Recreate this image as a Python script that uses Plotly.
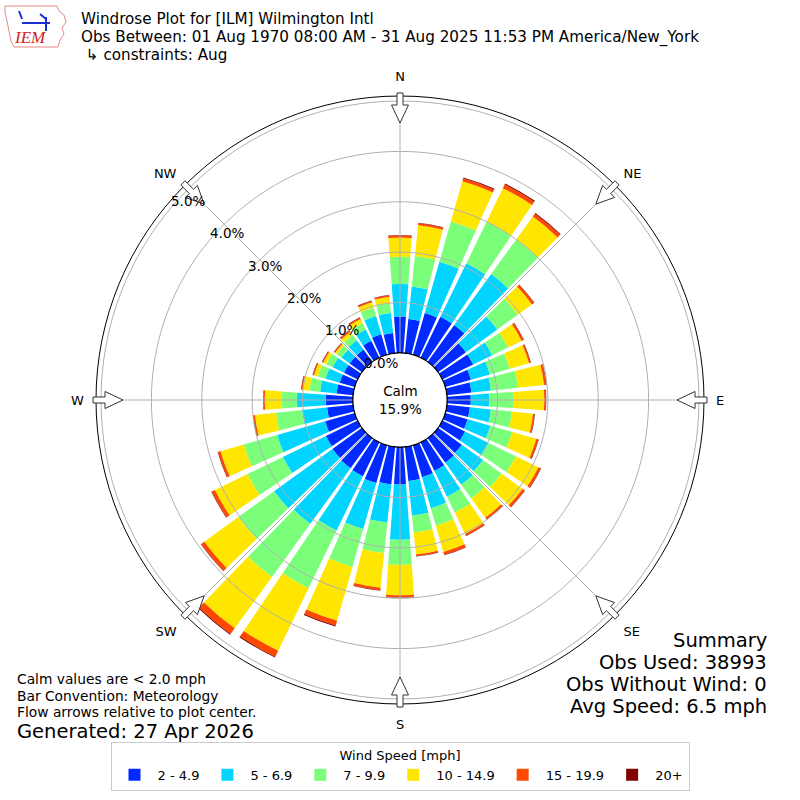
import math
import plotly.graph_objects as go

# Wind direction bins (degrees, meteorological, 10 deg bins)
directions = list(range(0, 360, 10))

speed_labels = ["2 - 4.9", "5 - 6.9", "7 - 9.9", "10 - 14.9", "15 - 19.9", "20+"]
speed_colors = ["#002aff", "#00d4ff", "#7bff7b", "#ffe600", "#ff4800", "#800000"]

# Frequency [%] per direction for each speed bin
freq_2_5 = [0.72, 0.68, 0.86, 0.90, 0.90, 0.68, 0.68, 0.53, 0.49, 0.47,
            0.46, 0.46, 0.50, 0.58, 0.60, 0.63, 0.66, 0.68, 0.74,
            0.75, 0.78, 0.75, 0.74, 0.72, 0.70, 0.61, 0.52, 0.54,
            0.33, 0.31, 0.30, 0.30, 0.30, 0.37, 0.42, 0.40]
freq_5_7 = [0.65, 0.65, 1.06, 1.18, 1.25, 0.77, 0.42, 0.39, 0.39, 0.37,
            0.42, 0.47, 0.52, 0.52, 0.54, 0.57, 0.64, 0.69, 1.10,
            0.76, 0.95, 1.20, 1.36, 1.43, 0.95, 0.99, 0.50, 0.57,
            0.33, 0.29, 0.25, 0.20, 0.23, 0.25, 0.38, 0.40]
freq_7_10 = [0.54, 0.61, 0.83, 0.92, 0.85, 0.50, 0.35, 0.41, 0.54, 0.47,
             0.42, 0.45, 0.60, 0.45, 0.34, 0.35, 0.36, 0.34, 0.50,
             0.61, 0.78, 1.27, 1.30, 0.88, 0.78, 0.69, 0.52, 0.30,
             0.21, 0.16, 0.14, 0.11, 0.13, 0.14, 0.17, 0.20]
freq_10_15 = [0.38, 0.61, 0.83, 0.74, 0.56, 0.35, 0.30, 0.40, 0.52, 0.62,
              0.42, 0.50, 0.50, 0.52, 0.47, 0.47, 0.54, 0.44, 0.60,
              0.69, 1.11, 1.38, 1.26, 0.83, 0.72, 0.48, 0.42, 0.34,
              0.14, 0.08, 0.07, 0.05, 0.08, 0.09, 0.11, 0.12]
freq_15_20 = [0.04, 0.04, 0.06, 0.08, 0.07, 0.05, 0.04, 0.03, 0.04, 0.03,
              0.03, 0.04, 0.05, 0.05, 0.04, 0.04, 0.06, 0.03, 0.04,
              0.05, 0.10, 0.13, 0.14, 0.08, 0.07, 0.05, 0.03, 0.02,
              0.02, 0.02, 0.02, 0.02, 0.03, 0.03, 0.03, 0.03]
freq_20_up = [0.01, 0.01, 0.02, 0.02, 0.02, 0.01, 0.01, 0.01, 0.01, 0.01,
              0.01, 0.01, 0.01, 0.01, 0.01, 0.01, 0.01, 0.01, 0.01,
              0.01, 0.02, 0.02, 0.02, 0.01, 0.01, 0.01, 0.01, 0.01,
              0.01, 0.01, 0.01, 0.01, 0.01, 0.01, 0.01, 0.01]

speed_series = [freq_2_5, freq_5_7, freq_7_10, freq_10_15, freq_15_20, freq_20_up]

radial_ticks = [0, 1, 2, 3, 4, 5]
radial_ticktext = ["0.0%", "1.0%", "2.0%", "3.0%", "4.0%", "5.0%"]
compass_angles = [0, 45, 90, 135, 180, 225, 270, 315]
compass_labels = ["N", "NE", "E", "SE", "S", "SW", "W", "NW"]

calm_pct = 15.9
title_lines = [
    "Windrose Plot for [ILM] Wilmington Intl",
    "Obs Between: 01 Aug 1970 08:00 AM - 31 Aug 2025 11:53 PM America/New_York",
    " ↳ constraints: Aug",
]
summary_lines = ["Summary", "Obs Used: 38993", "Obs Without Wind: 0", "Avg Speed: 6.5 mph"]
note_lines = ["Calm values are < 2.0 mph", "Bar Convention: Meteorology",
              "Flow arrows relative to plot center."]
generated = "Generated: 27 Apr 2026"

FONT = "DejaVu Sans"
W = H = 800
RMAX = 5.1
HOLE = 0.155
OUTER_PX = 304          # radius of the polar frame in pixels
CX, CY = 400, 400       # polar centre in pixels

fig = go.Figure()

for label, color, vals in zip(speed_labels, speed_colors, speed_series):
    fig.add_trace(go.Barpolar(
        r=vals, theta=directions, width=8.2, name=label,
        marker=dict(color=color, line=dict(width=0)),
    ))

# grid drawn over the bars, like matplotlib does
ring_theta = list(range(0, 361, 2))
for k in radial_ticks[1:]:
    fig.add_trace(go.Scatterpolar(
        r=[k] * len(ring_theta), theta=ring_theta, mode="lines",
        line=dict(color="#b0b0b0", width=1), showlegend=False, hoverinfo="skip"))
for a in compass_angles:
    fig.add_trace(go.Scatterpolar(
        r=[0, RMAX], theta=[a, a], mode="lines",
        line=dict(color="#b0b0b0", width=1), showlegend=False, hoverinfo="skip"))
# calm circle edge
fig.add_trace(go.Scatterpolar(
    r=[0] * len(ring_theta), theta=ring_theta, mode="lines",
    line=dict(color="black", width=1.2), showlegend=False, hoverinfo="skip"))

fig.update_layout(
    width=W, height=H,
    margin=dict(l=0, r=0, t=0, b=0),
    paper_bgcolor="white",
    font=dict(family=FONT, size=13, color="black"),
    polar=dict(
        domain=dict(x=[0.12, 0.88], y=[0.12, 0.88]),
        hole=HOLE,
        bgcolor="white",
        barmode="stack",
        angularaxis=dict(
            rotation=90, direction="clockwise",
            tickmode="array", tickvals=compass_angles, ticktext=compass_labels,
            ticks="outside", ticklen=9, tickcolor="rgba(0,0,0,0)",
            showgrid=False, showline=True, linecolor="black", linewidth=1,
            tickfont=dict(size=13),
        ),
        radialaxis=dict(
            range=[0, RMAX], tickmode="array", tickvals=radial_ticks,
            showticklabels=False, showgrid=False, showline=False, ticks="",
        ),
    ),
    legend=dict(
        orientation="h", x=0.5, xanchor="center", y=1 - 742 / H, yanchor="top",
        bordercolor="#cccccc", borderwidth=1, bgcolor="white",
        title=dict(text="Wind Speed [mph]", side="top center", font=dict(size=13)),
        font=dict(size=13), traceorder="normal", itemwidth=36,
    ),
    showlegend=True,
)


def px(x, y):
    return x / W, 1 - y / H


def polar_px(pct, bearing):
    hole_px = HOLE * OUTER_PX
    r = hole_px + (OUTER_PX - hole_px) * pct / RMAX
    b = math.radians(bearing)
    return CX + r * math.sin(b), CY - r * math.cos(b)


annotations = []
for i, line in enumerate(title_lines):
    x, y = px(80, 19 + 18 * i)
    annotations.append(dict(text=line, x=x, y=y, xanchor="left", yanchor="middle",
                            showarrow=False, borderpad=0, font=dict(size=15.2)))
for i, line in enumerate(summary_lines):
    x, y = px(768, 640 + 22 * i)
    annotations.append(dict(text=line, x=x, y=y, xanchor="right", yanchor="middle",
                            showarrow=False, borderpad=0, font=dict(size=19.5)))
for i, line in enumerate(note_lines):
    x, y = px(16, 679 + 16.5 * i)
    annotations.append(dict(text=line, x=x, y=y, xanchor="left", yanchor="middle",
                            showarrow=False, borderpad=0, font=dict(size=13.8)))
x, y = px(16, 731)
annotations.append(dict(text=generated, x=x, y=y, xanchor="left", yanchor="middle",
                        showarrow=False, borderpad=0, font=dict(size=19.5)))
annotations.append(dict(text="Calm<br>%.1f%%" % calm_pct, x=0.5, y=0.5, xanchor="center",
                        yanchor="middle", showarrow=False, font=dict(size=13.5)))
# radial labels, matplotlib style (left/bottom anchored, horizontal)
for k, txt in zip(radial_ticks, radial_ticktext):
    x, y = px(*polar_px(k, 310.0))
    annotations.append(dict(text=txt, x=x, y=y, xanchor="left", yanchor="bottom",
                            xshift=-1, yshift=-2,
                            showarrow=False, borderpad=0, font=dict(size=13.5)))
# logo text
x, y = px(30, 38)
annotations.append(dict(text="<i>IEM</i>", x=x, y=y, xanchor="center", yanchor="middle",
                        showarrow=False, font=dict(size=17, color="#d42020",
                                                   family="Liberation Serif")))

shapes = []
# flow arrows pointing toward the plot centre
arrow_outline = [(307, -3), (295, -3), (295, -8.5), (277, 0), (295, 8.5), (295, 3), (307, 3)]
for a in compass_angles:
    b = math.radians(a)
    ux, uy = math.sin(b), -math.cos(b)
    vx, vy = math.cos(b), math.sin(b)
    pts = []
    for r, w in arrow_outline:
        pts.append(px(CX + r * ux + w * vx, CY + r * uy + w * vy))
    path = "M " + " L ".join("%.5f,%.5f" % p for p in pts) + " Z"
    shapes.append(dict(type="path", path=path, xref="paper", yref="paper",
                       line=dict(color="#333333", width=1), fillcolor="white", layer="above"))

# rough state outline of the logo
logo_pts = [(5, 6), (57, 6), (59, 11), (64, 15), (66, 22), (62, 28), (64, 34),
            (60, 40), (58, 47), (14, 47), (11, 41), (9, 31), (7, 21), (5, 12)]
path = "M " + " L ".join("%.5f,%.5f" % px(*p) for p in logo_pts) + " Z"
shapes.append(dict(type="path", path=path, xref="paper", yref="paper",
                   line=dict(color="#e88888", width=1)))
for (x0, y0, x1, y1) in [(22, 23, 50, 23), (46, 17, 46, 31), (19, 11, 22, 19), (40, 14, 46, 19)]:
    a0, b0 = px(x0, y0)
    a1, b1 = px(x1, y1)
    shapes.append(dict(type="line", x0=a0, y0=b0, x1=a1, y1=b1, xref="paper", yref="paper",
                       line=dict(color="#1a2fd0", width=2)))

fig.update_layout(annotations=annotations, shapes=shapes)

# the page body has an 8px default margin; drop it so the figure fills the window
fig.write_html("out.html", config={"displayModeBar": False},
               post_script="document.body.style.margin='0px';")
